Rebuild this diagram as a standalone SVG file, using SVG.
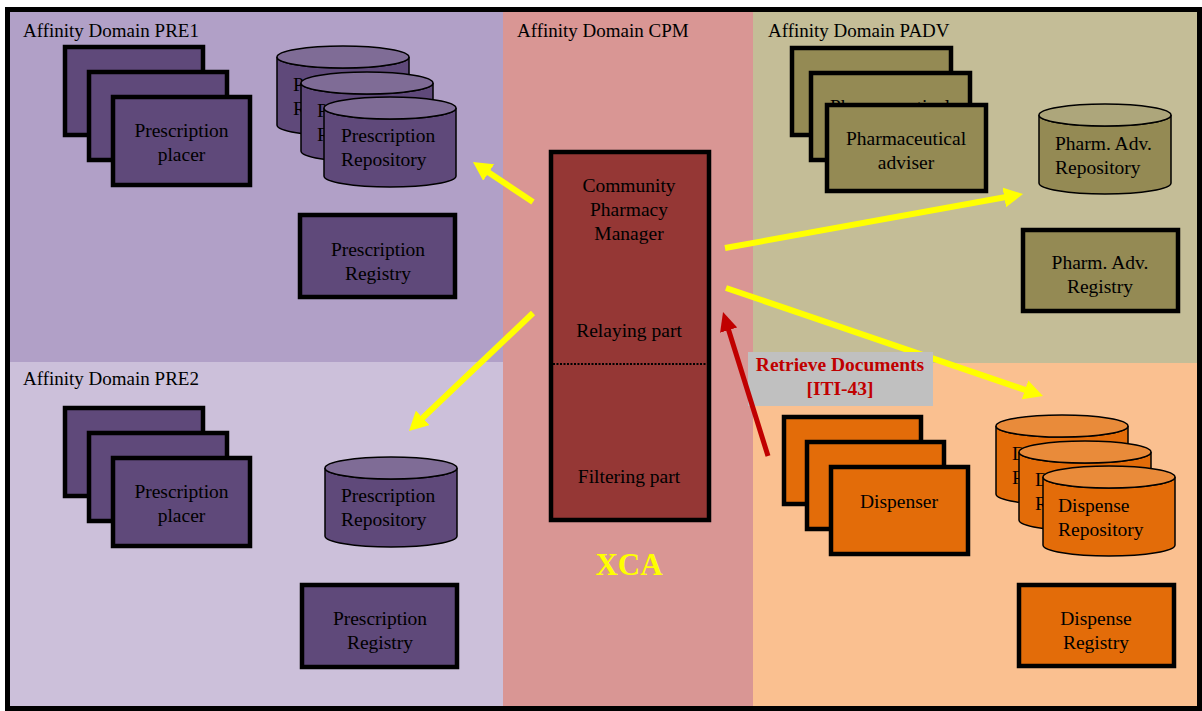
<svg xmlns="http://www.w3.org/2000/svg" xmlns:xlink="http://www.w3.org/1999/xlink" width="1202" height="711" viewBox="0 0 1202 711">
<style>
text{font-family:"Liberation Serif","Times New Roman",serif;font-size:19.5px;fill:#000}
.lbl{font-size:19px}
.c{text-anchor:middle}
.box{stroke:#000;stroke-width:4.5}
.pb{fill:#5F497A}
.ob{fill:#948A54}
.rb{fill:#E36C09}
.cyl{stroke:#000;stroke-width:1.5}
.pt{fill:#7F6C96}
.ot{fill:#ADA67B}
.rt{fill:#E98B3A}
.ya{stroke:#FFFF00;stroke-width:6;fill:none}
.ra{stroke:#C00000;stroke-width:5;fill:none}
</style>
<defs>
<path id="cb" d="M0,11 L0,79 A66,11 0 0 0 132,79 L132,11 A66,11 0 0 1 0,11 Z"/>
<ellipse id="ct" cx="66" cy="11" rx="66" ry="11"/>
<marker id="my" markerUnits="userSpaceOnUse" markerWidth="20" markerHeight="20" refX="6" refY="10" orient="auto"><path d="M0,0 L19,10 L0,20 Z" fill="#FFFF00"/></marker>
<marker id="mr" markerUnits="userSpaceOnUse" markerWidth="20" markerHeight="18" refX="6" refY="9" orient="auto"><path d="M0,0 L19,9 L0,18 Z" fill="#C00000"/></marker>
</defs>
<rect width="1202" height="711" fill="#FFFFFF"/>
<g id="domains">
<rect x="10" y="12" width="493" height="350" fill="#B1A0C7"/>
<rect x="10" y="362" width="493" height="345" fill="#CCC0DA"/>
<rect x="503" y="12" width="250" height="695" fill="#D99694"/>
<rect x="753" y="12" width="445" height="351" fill="#C4BD97"/>
<rect x="753" y="363" width="445" height="344" fill="#FAC090"/>
<rect x="7.5" y="9.5" width="1192" height="699" fill="none" stroke="#000" stroke-width="5"/>
<text class="lbl" x="23" y="37">Affinity Domain PRE1</text>
<text class="lbl" x="23" y="385">Affinity Domain PRE2</text>
<text class="lbl" x="517" y="37">Affinity Domain CPM</text>
<text class="lbl" x="768" y="37">Affinity Domain PADV</text>
</g>
<g id="pre1-placer">
<rect class="box pb" x="65" y="47" width="138" height="88"/>
<rect class="box pb" x="89" y="72" width="138" height="88"/>
<rect class="box pb" x="113" y="97" width="137" height="88"/>
<text class="c" x="181.5" y="137">Prescription</text>
<text class="c" x="181.5" y="161">placer</text>
</g>
<g id="pre1-repository">
<use href="#cb" x="277" y="46" class="cyl pb"/><use href="#ct" x="277" y="46" class="cyl pt"/>
<text x="293" y="91">P</text><text x="293" y="115">R</text>
<use href="#cb" x="301" y="72" class="cyl pb"/><use href="#ct" x="301" y="72" class="cyl pt"/>
<text x="317" y="117">P</text><text x="317" y="141">R</text>
<use href="#cb" x="324" y="97" class="cyl pb"/><use href="#ct" x="324" y="97" class="cyl pt"/>
<text x="341" y="142">Prescription</text><text x="341" y="166">Repository</text>
</g>
<g id="pre1-registry">
<rect class="box pb" x="300" y="215" width="155" height="82"/>
<text class="c" x="378" y="256">Prescription</text>
<text class="c" x="378" y="280">Registry</text>
</g>
<g id="pre2-placer">
<rect class="box pb" x="65" y="408" width="138" height="88"/>
<rect class="box pb" x="89" y="433" width="138" height="88"/>
<rect class="box pb" x="113" y="458" width="137" height="88"/>
<text class="c" x="181.5" y="498">Prescription</text>
<text class="c" x="181.5" y="522">placer</text>
</g>
<g id="pre2-repository">
<use href="#cb" x="325" y="457" class="cyl pb"/><use href="#ct" x="325" y="457" class="cyl pt"/>
<text x="341" y="502">Prescription</text><text x="341" y="526">Repository</text>
</g>
<g id="pre2-registry">
<rect class="box pb" x="302" y="585" width="155" height="82"/>
<text class="c" x="380" y="625">Prescription</text>
<text class="c" x="380" y="649">Registry</text>
</g>
<g id="cpm-manager">
<rect class="box" fill="#953735" x="551" y="152" width="158" height="368"/>
<line x1="553" y1="364" x2="707" y2="364" stroke="#000" stroke-width="2" stroke-dasharray="2,1.5"/>
<text class="c" x="629" y="192">Community</text>
<text class="c" x="629" y="216">Pharmacy</text>
<text class="c" x="629" y="240">Manager</text>
<text class="c" x="629" y="337">Relaying part</text>
<text class="c" x="629" y="483">Filtering part</text>
</g>
<g id="xca">
<text class="c" x="629" y="575" style="font-size:31px;font-weight:bold;fill:#FFFF00">XCA</text>
</g>
<g id="padv-adviser">
<rect class="box ob" x="792" y="48" width="159" height="87"/>
<rect class="box ob" x="811" y="73" width="159" height="87"/>
<text class="c" x="890" y="113">Pharmaceutical</text>
<rect class="box ob" x="827" y="105" width="159" height="86"/>
<text class="c" x="906" y="145">Pharmaceutical</text>
<text class="c" x="906" y="169">adviser</text>
</g>
<g id="padv-repository">
<use href="#cb" x="1039" y="104" class="cyl ob"/><use href="#ct" x="1039" y="104" class="cyl ot"/>
<text x="1055" y="150">Pharm. Adv.</text><text x="1055" y="174">Repository</text>
</g>
<g id="padv-registry">
<rect class="box ob" x="1023" y="230" width="155" height="81"/>
<text class="c" x="1100" y="269">Pharm. Adv.</text>
<text class="c" x="1100" y="293">Registry</text>
</g>
<g id="disp-dispenser">
<rect class="box rb" x="784" y="417" width="137" height="87"/>
<rect class="box rb" x="807" y="442" width="137" height="87"/>
<rect class="box rb" x="831" y="467" width="137" height="87"/>
<text class="c" x="899" y="508">Dispenser</text>
</g>
<g id="disp-repository">
<use href="#cb" x="996" y="415" class="cyl rb"/><use href="#ct" x="996" y="415" class="cyl rt"/>
<text x="1012" y="460">D</text><text x="1012" y="484">R</text>
<use href="#cb" x="1019" y="441" class="cyl rb"/><use href="#ct" x="1019" y="441" class="cyl rt"/>
<text x="1035" y="486">D</text><text x="1035" y="510">R</text>
<use href="#cb" x="1043" y="466" class="cyl rb"/><use href="#ct" x="1043" y="466" class="cyl rt"/>
<text x="1058" y="512">Dispense</text><text x="1058" y="536">Repository</text>
</g>
<g id="disp-registry">
<rect class="box rb" x="1019" y="585" width="155" height="81"/>
<text class="c" x="1096" y="625">Dispense</text>
<text class="c" x="1096" y="649">Registry</text>
</g>
<g id="connectors">
<line class="ya" x1="533" y1="202" x2="483.8" y2="169.2" marker-end="url(#my)"/>
<line class="ya" x1="533" y1="313" x2="418.4" y2="422" marker-end="url(#my)"/>
<line class="ya" x1="725" y1="248" x2="1010.2" y2="196.3" marker-end="url(#my)"/>
<line class="ya" x1="726" y1="288" x2="1030.7" y2="391.8" marker-end="url(#my)"/>
<rect x="748" y="352" width="185" height="54" fill="#C0C0C0"/>
<text class="c" x="840" y="371" style="font-weight:bold;fill:#C00000">Retrieve Documents</text>
<text class="c" x="840" y="395" style="font-weight:bold;fill:#C00000">[ITI-43]</text>
<line class="ra" x1="768" y1="456" x2="726.9" y2="324.4" marker-end="url(#mr)"/>
</g>
</svg>
